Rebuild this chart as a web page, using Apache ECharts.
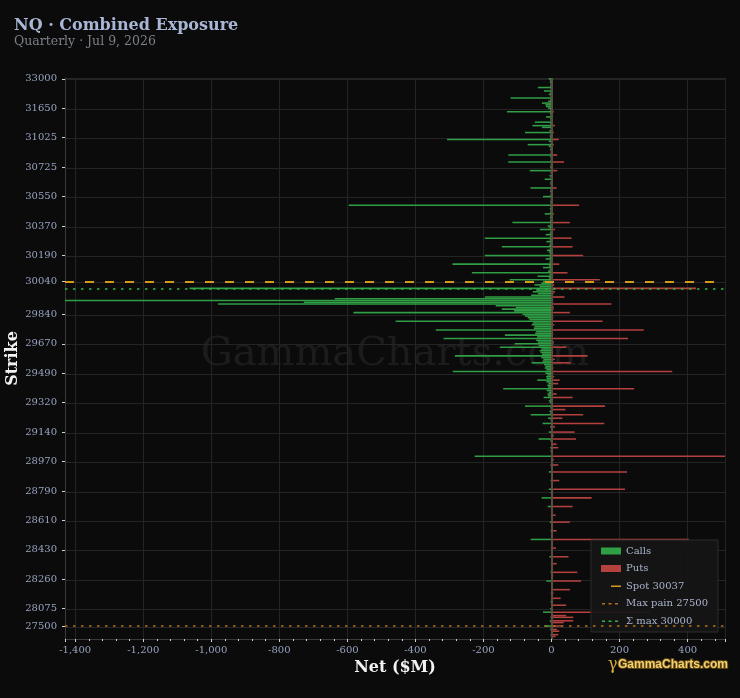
<!DOCTYPE html>
<html>
<head>
<meta charset="utf-8">
<title>NQ · Combined Exposure</title>
<script src="https://cdn.jsdelivr.net/npm/echarts@6/dist/echarts.min.js"></script>
<style>
    html, body { margin: 0; padding: 0; background: #0b0b0b; }
    #chart { width: 740px; height: 698px; }
</style>
</head>
<body>
<div id="chart"></div>
<script>
    // strikes low -> high (bottom -> top)
    const strikes = [
        26000, 26500, 27000, 27100, 27200, 27300, 27400, 27500, 27600, 27700,
        27750, 27800, 27850, 27900, 27950, 28000, 28050, 28075, 28080, 28090,
        28100, 28110, 28120, 28125, 28130, 28140, 28150, 28160, 28175, 28180,
        28200, 28220, 28225, 28250, 28260, 28270, 28280, 28290, 28300, 28310,
        28320, 28330, 28340, 28350, 28360, 28370, 28380, 28390, 28400, 28410,
        28420, 28430, 28440, 28450, 28460, 28470, 28480, 28490, 28500, 28510,
        28520, 28530, 28540, 28550, 28560, 28570, 28580, 28600, 28610, 28620,
        28630, 28640, 28650, 28660, 28670, 28680, 28690, 28700, 28710, 28720,
        28730, 28740, 28750, 28760, 28780, 28790, 28800, 28810, 28820, 28830,
        28840, 28850, 28860, 28870, 28880, 28890, 28900, 28910, 28920, 28940,
        28950, 28960, 28970, 28980, 28990, 29000, 29010, 29020, 29030, 29040,
        29050, 29060, 29070, 29080, 29090, 29100, 29110, 29120, 29130, 29140,
        29150, 29160, 29180, 29190, 29200, 29210, 29220, 29230, 29240, 29250,
        29260, 29270, 29280, 29290, 29300, 29310, 29320, 29330, 29340, 29350,
        29360, 29370, 29380, 29390, 29400, 29410, 29420, 29430, 29440, 29450,
        29460, 29470, 29480, 29490, 29500, 29510, 29520, 29540, 29550, 29560,
        29570, 29580, 29590, 29600, 29610, 29620, 29630, 29640, 29650, 29660,
        29670, 29680, 29690, 29700, 29710, 29720, 29730, 29740, 29750, 29760,
        29770, 29780, 29790, 29800, 29810, 29820, 29830, 29840, 29850, 29860,
        29870, 29880, 29890, 29900, 29910, 29920, 29930, 29940, 29950, 29960,
        29980, 29990, 30000, 30010, 30020, 30030, 30040, 30050, 30060, 30070,
        30080, 30090, 30100, 30110, 30120, 30130, 30140, 30150, 30160, 30170,
        30180, 30190, 30200, 30210, 30220, 30230, 30240, 30250, 30260, 30270,
        30280, 30290, 30300, 30310, 30320, 30340, 30350, 30360, 30370, 30380,
        30390, 30400, 30410, 30420, 30430, 30440, 30450, 30460, 30470, 30480,
        30490, 30500, 30520, 30530, 30540, 30550, 30560, 30570, 30575, 30580,
        30590, 30600, 30620, 30625, 30640, 30650, 30660, 30675, 30680, 30690,
        30700, 30710, 30725, 30740, 30750, 30760, 30775, 30780, 30800, 30825,
        30850, 30875, 30900, 30925, 30950, 30975, 30990, 31000, 31010, 31025,
        31050, 31075, 31100, 31150, 31200, 31250, 31300, 31350, 31400, 31450,
        31500, 31525, 31550, 31575, 31600, 31625, 31650, 31700, 31750, 31800,
        31850, 31900, 31950, 32000, 32100, 32200, 32250, 32300, 32400, 32500,
        32600, 32750, 32900, 33000
    ];

    // net call exposure ($M), same order as strikes
    const callNet = [
        0, 0, -3, 0, 0, -4, 0, -22, 0, -3,
        -5, 0, -3, 0, 0, -25, 0, -4, 0, 0,
        0, -3, 0, 0, 0, 0, -2, 0, 0, 0,
        0, 0, 0, -15, 0, 0, 0, 0, -3, 0,
        0, 0, 0, -2, 0, 0, 0, -6, 0, 0,
        0, 0, -2, 0, 0, 0, 0, -61, 0, 0,
        0, 0, -3, 0, 0, 0, 0, -5, 0, 0,
        0, -2, 0, 0, 0, 0, -11, 0, 0, 0,
        0, -29, 0, 0, -3, 0, -8, 0, 0, 0,
        0, -3, 0, 0, 0, 0, -8, 0, 0, -2,
        -3, 0, 0, -2, 0, -226, 0, 0, -3, 0,
        -4, 0, 0, 0, -3, -38, 0, -2, 0, -8,
        0, 0, -4, 0, -26, 0, -3, -10, 0, -61,
        -4, -6, 0, -3, -78, 0, -5, -8, -4, -23,
        -10, -12, -8, -14, -142, -10, -12, -9, -15, -42,
        -14, -16, -12, -18, -290, -15, -20, -18, -22, -59,
        -26, -24, -30, -284, -28, -32, -35, -30, -152, -38,
        -108, -40, -45, -317, -42, -137, -48, -45, -340, -52,
        -50, -58, -55, -458, -65, -70, -78, -85, -582, -110,
        -146, -105, -164, -980, -728, -1430, -637, -196, -60, -40,
        -55, -45, -1064, -35, -50, -30, -25, -123, -8, -41,
        -6, -234, -10, -5, -25, -8, -291, -6, -5, -17,
        -6, -196, -5, -8, -13, -5, -146, -6, -4, -15,
        -5, -196, -4, -17, -5, -3, -34, -6, -11, -4,
        -115, -4, -3, -5, -3, -20, -4, -3, -5, -3,
        -596, -3, -4, -3, -2, -25, -3, -2, -4, -3,
        -62, -2, -3, -4, -2, -20, -3, -6, -2, -3,
        -64, -2, -4, -3, -2, -127, -3, -2, -4, -127,
        -3, -2, -4, -3, -8, -70, -3, -8, -307, -4,
        -5, -3, -78, -6, -3, -28, -56, -4, -49, -3,
        -4, -16, -3, -5, -131, -4, -10, -16, -18, -28,
        -10, -4, -120, -3, -8, -4, -22, -3, -40, -4,
        -3, -5, -4, -8
    ];

    // net put exposure ($M)
    const putNet = [
        0, 12, 20, 0, 23, 16, 0, 30, 0, 36,
        64, 0, 64, 43, 0, 289, 0, 0, 0, 43,
        0, 5, 0, 27, 0, 0, 6, 0, 54, 0,
        4, 0, 0, 87, 0, 0, 5, 0, 76, 0,
        0, 4, 0, 15, 0, 3, 0, 50, 0, 3,
        0, 0, 13, 0, 4, 0, 0, 404, 0, 0,
        3, 0, 15, 0, 3, 0, 0, 54, 0, 2,
        0, 12, 0, 0, 3, 0, 62, 0, 0, 4,
        0, 118, 0, 0, 5, 0, 216, 0, 0, 4,
        0, 23, 0, 3, 0, 0, 222, 0, 4, 0,
        20, 0, 0, 7, 0, 510, 0, 3, 0, 0,
        20, 0, 15, 0, 0, 72, 0, 7, 0, 68,
        0, 0, 10, 0, 155, 0, 0, 32, 0, 93,
        0, 0, 41, 0, 157, 0, 0, 4, 0, 62,
        0, 15, 0, 0, 243, 0, 0, 20, 0, 24,
        0, 8, 0, 5, 355, 0, 6, 0, 4, 57,
        0, 10, 0, 106, 0, 5, 0, 4, 44, 0,
        6, 7, 0, 225, 0, 5, 5, 0, 271, 0,
        4, 8, 0, 150, 0, 5, 5, 0, 54, 0,
        6, 7, 0, 176, 0, 5, 0, 38, 0, 6,
        10, 0, 425, 5, 8, 0, 4, 142, 0, 5,
        0, 47, 0, 4, 0, 0, 23, 0, 3, 0,
        0, 93, 0, 3, 0, 0, 62, 0, 0, 4,
        0, 59, 0, 0, 3, 0, 10, 0, 0, 0,
        54, 0, 0, 0, 0, 7, 0, 0, 0, 0,
        81, 0, 0, 0, 0, 3, 0, 0, 0, 0,
        15, 0, 0, 0, 0, 3, 0, 0, 0, 0,
        17, 0, 0, 0, 0, 37, 0, 0, 0, 17,
        0, 0, 0, 0, 0, 7, 0, 0, 21, 0,
        0, 0, 7, 0, 0, 3, 10, 0, 0, 0,
        0, 0, 0, 0, 7, 0, 0, 0, 0, 0,
        0, 0, 3, 0, 0, 0, 0, 0, 0, 0,
        0, 0, 0, 0
    ];

    // strikes that get a label / tick / grid line on the y axis
    const tickStrikes = [27500, 28075, 28260, 28430, 28610, 28790, 28970, 29140, 29320, 29490,
        29670, 29840, 30040, 30190, 30370, 30550, 30725, 31025, 31650, 33000];

    const spotPrice = 30037;
    const spotStrike = 30040;
    const maxPain = 27500;
    const sigmaMax = 30000;

    const SERIF = '"DejaVu Serif", serif';
    const tickSet = new Set(tickStrikes.map(String));
    const showTick = function (idx, val) { return tickSet.has(String(val)); };

    const green = '#2f9e44', red = '#b5413f', spotColor = '#d49a1f', painColor = '#b8701c', sigmaColor = '#36b24a';
    const noLabel = { show: false };
    // legend icons drawn in a 20x7 box (corner specks keep the box size)
    const box = 'M0,0h0.05v0.05h-0.05z M19.95,6.95h0.05v0.05h-0.05z ';
    const solidIcon = 'path://' + box + 'M10,3h10v1.4h-10z';
    const dashIcon = 'path://' + box + 'M1,3h3v1.4h-3z M7.5,3h3v1.4h-3z M14,3h3v1.4h-3z';

    const chart = echarts.init(document.getElementById('chart'));
    const option = {
        backgroundColor: '#0b0b0b',
        animation: false,
        title: {
            text: 'NQ · Combined Exposure',
            subtext: 'Quarterly · Jul 9, 2026',
            left: 9, top: 13, itemGap: 1,
            textStyle: { color: '#a9b6d6', fontFamily: SERIF, fontWeight: 'bold', fontSize: 16 },
            subtextStyle: { color: '#7b8089', fontFamily: SERIF, fontSize: 12.5 }
        },
        legend: {
            orient: 'vertical',
            right: 22, bottom: 66,
            backgroundColor: 'rgba(22,22,22,0.92)',
            borderColor: '#2c2c2c', borderWidth: 1,
            padding: [6, 10, 6, 10],
            itemGap: 7.5, itemWidth: 20, itemHeight: 7,
            textStyle: { color: '#aab4cc', fontFamily: SERIF, fontSize: 10 },
            data: [
                { name: 'Calls', icon: 'rect' },
                { name: 'Puts', icon: 'rect' },
                { name: 'Spot ' + spotPrice, icon: solidIcon },
                { name: 'Max pain ' + maxPain, icon: dashIcon },
                { name: 'Σ max ' + sigmaMax, icon: dashIcon }
            ]
        },
        grid: { left: 65, right: 15, top: 78, bottom: 59, outerBoundsMode: 'none' },
        xAxis: {
            type: 'value',
            min: -1430, max: 510, splitNumber: 9,
            name: 'Net ($M)', nameLocation: 'middle', nameGap: 21, nameMoveOverlap: false,
            nameTextStyle: { color: '#f2f2f2', fontFamily: SERIF, fontWeight: 'bold', fontSize: 16 },
            axisLine: { show: true, lineStyle: { color: '#3a3a3a' } },
            axisTick: { show: true, length: 3, lineStyle: { color: '#d0d0d0' } },
            minorTick: { show: true, splitNumber: 5, length: 2, lineStyle: { color: '#d0d0d0' } },
            axisLabel: {
                color: '#97a3bf', fontFamily: SERIF, fontSize: 10, margin: 6,
                formatter: function (v) { return v % 200 === 0 ? echarts.format.addCommas(v) : ''; }
            },
            splitLine: { show: true, lineStyle: { color: '#242424' } }
        },
        yAxis: {
            type: 'category',
            data: strikes.map(String),
            name: 'Strike', nameLocation: 'middle', nameGap: 44, nameMoveOverlap: false,
            nameTextStyle: { color: '#f2f2f2', fontFamily: SERIF, fontWeight: 'bold', fontSize: 16 },
            axisLine: { show: true, onZero: false, lineStyle: { color: '#3a3a3a' } },
            axisTick: { show: true, interval: showTick, alignWithLabel: true, length: 3, lineStyle: { color: '#d0d0d0' } },
            axisLabel: { interval: showTick, color: '#97a3bf', fontFamily: SERIF, fontSize: 10, margin: 8 },
            splitLine: { show: true, interval: showTick, lineStyle: { color: '#242424' } }
        },
        graphic: [
            {
                type: 'text', x: 395, y: 355, z: 0, silent: true,
                style: { text: 'GammaCharts.com', font: '40px "DejaVu Serif"', fill: 'rgba(255,255,255,0.07)', align: 'center', verticalAlign: 'middle' }
            },
            {
                type: 'text', x: 608, y: 665, silent: true,
                style: { text: 'γ', font: '16px "DejaVu Serif"', fill: '#d9ad3a', verticalAlign: 'middle' }
            },
            {
                type: 'text', x: 618, y: 665, silent: true,
                style: { text: 'GammaCharts.com', font: 'bold 12px "Liberation Sans"', fill: '#f4d170', stroke: '#5c4210', lineWidth: 2, strokeFirst: true, verticalAlign: 'middle' }
            }
        ],
        series: [
            {
                name: 'Calls', type: 'bar', data: callNet,
                barWidth: '90%', barGap: '-100%',
                itemStyle: { color: green },
                markLine: {
                    silent: true, symbol: ['none', 'none'], label: noLabel,
                    lineStyle: { color: '#5d4b42', width: 2, type: 'solid' },
                    data: [{ xAxis: 0 }]
                }
            },
            {
                name: 'Puts', type: 'bar', data: putNet,
                barWidth: '90%', barGap: '-100%',
                itemStyle: { color: red }
            },
            {
                name: 'Spot ' + spotPrice, type: 'line', data: [], symbol: 'none',
                lineStyle: { color: spotColor, width: 2 }, itemStyle: { color: spotColor },
                markLine: {
                    silent: true, symbol: ['none', 'none'], label: noLabel,
                    lineStyle: { color: spotColor, width: 2, type: [9, 11] },
                    data: [{ yAxis: String(spotStrike) }]
                }
            },
            {
                name: 'Max pain ' + maxPain, type: 'line', data: [], symbol: 'none',
                lineStyle: { color: painColor, width: 1.5 }, itemStyle: { color: painColor },
                markLine: {
                    silent: true, symbol: ['none', 'none'], label: noLabel,
                    lineStyle: { color: painColor, width: 1.5, type: [2.5, 5.5] },
                    data: [{ yAxis: String(maxPain) }]
                }
            },
            {
                name: 'Σ max ' + sigmaMax, type: 'line', data: [], symbol: 'none',
                lineStyle: { color: sigmaColor, width: 1.5 }, itemStyle: { color: sigmaColor },
                markLine: {
                    silent: true, symbol: ['none', 'none'], label: noLabel,
                    lineStyle: { color: sigmaColor, width: 1.5, type: [2.5, 5.5] },
                    data: [{ yAxis: String(sigmaMax) }]
                }
            }
        ]
    };
    chart.setOption(option);

    window.addEventListener('resize', function () {
        chart.resize();
    });
</script>
</body>
</html>
